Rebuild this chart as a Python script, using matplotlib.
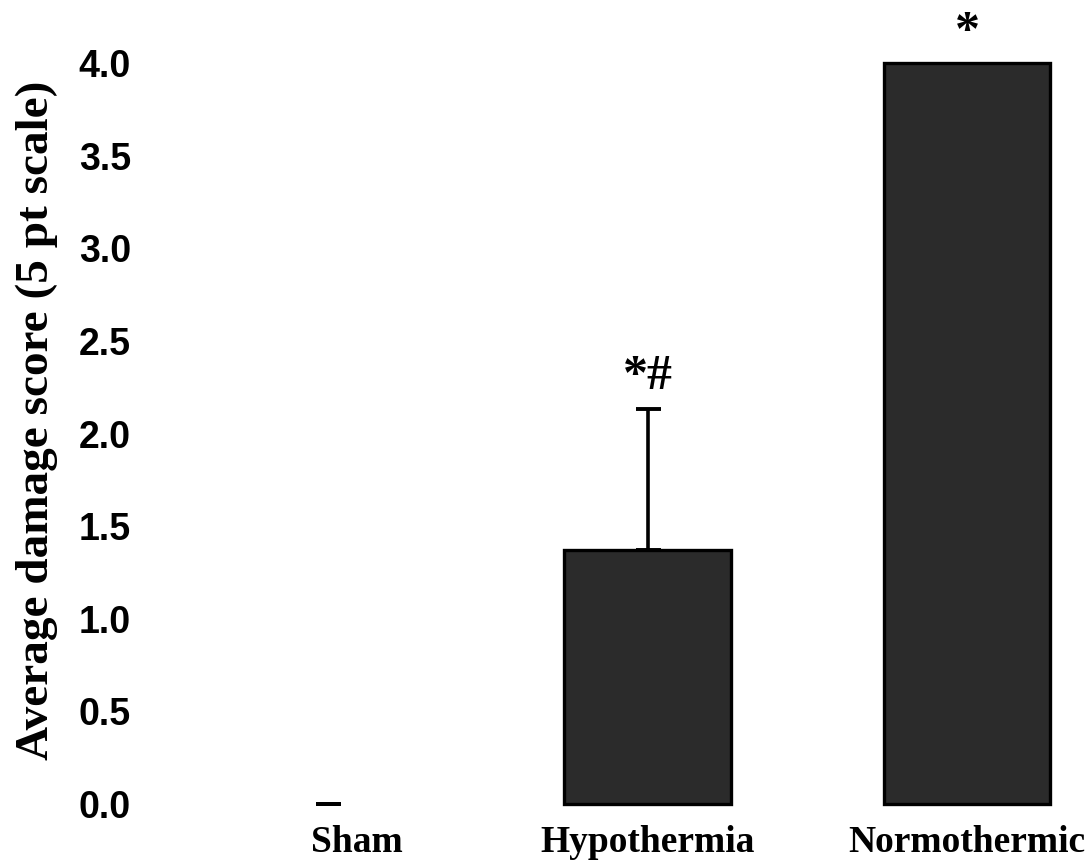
import matplotlib.pyplot as plt
import matplotlib.transforms as mtransforms

groups = ["Sham", "Hypothermia", "Normothermic"]
scores = [0.0, 1.37, 4.0]
score_err = [0.0, 0.76, 0.0]
sig_marks = ["", "*#", "*"]
yticks = [0.0, 0.5, 1.0, 1.5, 2.0, 2.5, 3.0, 3.5, 4.0]

SERIF = "Liberation Serif"
SANS = "Liberation Sans"

W, H = 1092, 867
fig = plt.figure(figsize=(W / 100, H / 100), dpi=100)
ax = fig.add_axes([170 / W, (H - 830) / H, (1080 - 170) / W, 810 / H])

x = list(range(len(groups)))
# zero-height bars get no outline, only the error cap marks them
edge_w = [2.4 if s > 0 else 0 for s in scores]
ax.bar(x, scores, width=0.52, color="#2b2b2b", edgecolor="black", linewidth=edge_w, zorder=2)

# upper error bars only, drawn under the bars so the lower caps stay hidden;
# a bar with no spread gets no cap, except sham, whose cap is all that shows
keep = [i for i in x if score_err[i] > 0 or scores[i] == 0]
ax.errorbar([x[i] for i in keep], [scores[i] for i in keep],
            yerr=[[0] * len(keep), [score_err[i] for i in keep]], fmt="none", ecolor="black",
            elinewidth=2.6, capsize=9, capthick=2.8, zorder=1)

for xi, top, err, mark in zip(x, scores, score_err, sig_marks):
    if not mark:
        continue
    gap = 15 if err > 0 else 13
    ax.annotate(mark, xy=(xi, top + err), xytext=(0, gap), textcoords="offset points",
                ha="center", va="baseline", fontsize=36, fontweight="bold", family=SERIF)

ax.set_xlim(-0.495, 2.354)
ax.set_ylim(-0.14, 4.232)

ax.set_yticks(yticks)
ax.set_yticklabels([f"{t:.1f}" for t in yticks], fontsize=27, fontweight="bold", family=SANS)
ax.tick_params(axis="y", length=0, pad=28)
ax.set_xticks([])

for side in ax.spines.values():
    side.set_visible(False)

# group names under the bars
label_shift = {"Sham": 0.29}
for xi, name in zip(x, groups):
    off = mtransforms.ScaledTranslation(label_shift.get(name, 0.0), -0.22, fig.dpi_scale_trans)
    ax.text(xi, 0, name, transform=ax.get_xaxis_transform() + off, ha="center", va="baseline",
            fontsize=27, fontweight="bold", family=SERIF)

fig.text(37 / W, 1 - 420 / H, "Average damage score (5 pt scale)", rotation=90,
         ha="center", va="center", fontsize=34, fontweight="bold", family=SERIF)

fig.savefig("out.png", dpi=100)
